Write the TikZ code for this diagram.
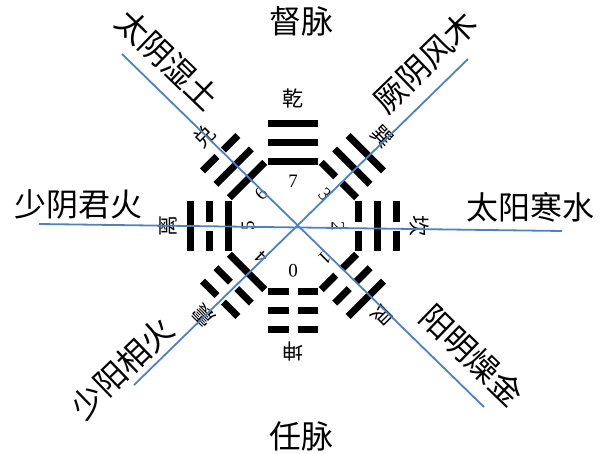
\documentclass[tikz,border=0pt]{standalone}
\usepackage{fontspec}
\setmainfont{Liberation Serif}
\newfontfamily\cjk{Noto Sans CJK SC}
\usepackage{tikz}

\begin{document}
\begin{tikzpicture}[x=1pt,y=1pt,yscale=-1,xscale=1,
  yao/.style={line width=7pt},
  meridian/.style={color={rgb, 255:red, 79; green, 129; blue, 189}, draw opacity=1, line width=1.8pt},
  gua/.style={font=\cjk\fontsize{21}{21}\selectfont, inner sep=0pt},
  num/.style={font=\fontsize{19}{19}\selectfont, inner sep=0pt},
  qi/.style={font=\cjk\fontsize{32}{32}\selectfont, inner sep=0pt}]
%set diagram left start at 0, and has height of 453
\useasboundingbox (0,0) rectangle (605,453);

%Trigram: Qian [111]
\begin{scope}[shift={(293,226)},rotate=0]
\draw[yao] (-25,-65) -- (25,-65);
\draw[yao] (-25,-84) -- (25,-84);
\draw[yao] (-25,-103) -- (25,-103);
\node[gua] (qian) at (0,-127) {乾};
\node[num] (n7) at (0,-45) {7};
\end{scope}

%Trigram: Xun [011]
\begin{scope}[shift={(293,226)},rotate=45]
\draw[yao] (-25,-65) -- (-4.5,-65);
\draw[yao] (4.5,-65) -- (25,-65);
\draw[yao] (-25,-84) -- (25,-84);
\draw[yao] (-25,-103) -- (25,-103);
\node[gua,rotate=-45] (xun) at (0,-126) {巽};
\node[num,rotate=-45] (n3) at (0,-45) {3};
\end{scope}

%Trigram: Kan [010]
\begin{scope}[shift={(293,226)},rotate=90]
\draw[yao] (-25,-65) -- (-4.5,-65);
\draw[yao] (4.5,-65) -- (25,-65);
\draw[yao] (-25,-84) -- (25,-84);
\draw[yao] (-25,-103) -- (-4.5,-103);
\draw[yao] (4.5,-103) -- (25,-103);
\node[gua,rotate=-90] (kan) at (0,-126) {坎};
\node[num,rotate=-90] (n2) at (0,-45) {2};
\end{scope}

%Trigram: Gen [001]
\begin{scope}[shift={(293,226)},rotate=135]
\draw[yao] (-25,-65) -- (-4.5,-65);
\draw[yao] (4.5,-65) -- (25,-65);
\draw[yao] (-25,-84) -- (-4.5,-84);
\draw[yao] (4.5,-84) -- (25,-84);
\draw[yao] (-25,-103) -- (25,-103);
\node[gua,rotate=-135] (gen) at (0,-126) {艮};
\node[num,rotate=-135] (n1) at (0,-45) {1};
\end{scope}

%Trigram: Kun [000]
\begin{scope}[shift={(293,226)},rotate=180]
\draw[yao] (-25,-65) -- (-4.5,-65);
\draw[yao] (4.5,-65) -- (25,-65);
\draw[yao] (-25,-84) -- (-4.5,-84);
\draw[yao] (4.5,-84) -- (25,-84);
\draw[yao] (-25,-103) -- (-4.5,-103);
\draw[yao] (4.5,-103) -- (25,-103);
\node[gua,rotate=-180] (kun) at (0,-125) {坤};
\node[num,rotate=-180] (n0) at (0,-45) {0};
\end{scope}

%Trigram: Zhen [100]
\begin{scope}[shift={(293,226)},rotate=225]
\draw[yao] (-25,-65) -- (25,-65);
\draw[yao] (-25,-84) -- (-4.5,-84);
\draw[yao] (4.5,-84) -- (25,-84);
\draw[yao] (-25,-103) -- (-4.5,-103);
\draw[yao] (4.5,-103) -- (25,-103);
\node[gua,rotate=-225] (zhen) at (0,-126) {震};
\node[num,rotate=-225] (n4) at (0,-45) {4};
\end{scope}

%Trigram: Li [101]
\begin{scope}[shift={(293,226)},rotate=270]
\draw[yao] (-25,-65) -- (25,-65);
\draw[yao] (-25,-84) -- (-4.5,-84);
\draw[yao] (4.5,-84) -- (25,-84);
\draw[yao] (-25,-103) -- (25,-103);
\node[gua,rotate=-270] (li) at (0,-126) {离};
\node[num,rotate=-270] (n5) at (0,-45) {5};
\end{scope}

%Trigram: Dui [110]
\begin{scope}[shift={(293,226)},rotate=315]
\draw[yao] (-25,-65) -- (25,-65);
\draw[yao] (-25,-84) -- (25,-84);
\draw[yao] (-25,-103) -- (-4.5,-103);
\draw[yao] (4.5,-103) -- (25,-103);
\node[gua,rotate=-315] (dui) at (0,-126) {兑};
\node[num,rotate=-315] (n6) at (0,-45) {6};
\end{scope}

% Text Node
\node[qi] (du) at (301,21) {督脉};
% Text Node
\node[qi] (ren) at (301,436) {任脉};
% Text Node
\node[qi,rotate=-44] (taiyin) at (168,60) {太阴湿土};
% Text Node
\node[qi,rotate=44] (jueyin) at (425,62) {厥阴风木};
% Text Node
\node[qi] (shaoyin) at (78,204) {少阴君火};
% Text Node
\node[qi] (taiyang) at (530,207) {太阳寒水};
% Text Node
\node[qi,rotate=44] (shaoyang) at (122,368) {少阳相火};
% Text Node
\node[qi,rotate=-44] (yangming) at (472,355) {阳明燥金};

%Line ends
\coordinate (a1) at (122,54);
\coordinate (a2) at (484,407);
\coordinate (b1) at (134,385);
\coordinate (b2) at (468,59);
\coordinate (c1) at (39,224);
\coordinate (c2) at (562,231);

%Straight Lines
\draw[meridian] (a1) -- (a2);
%Straight Lines
\draw[meridian] (b1) -- (b2);
%Straight Lines
\draw[meridian] (c1) -- (c2);

\end{tikzpicture}
\end{document}
